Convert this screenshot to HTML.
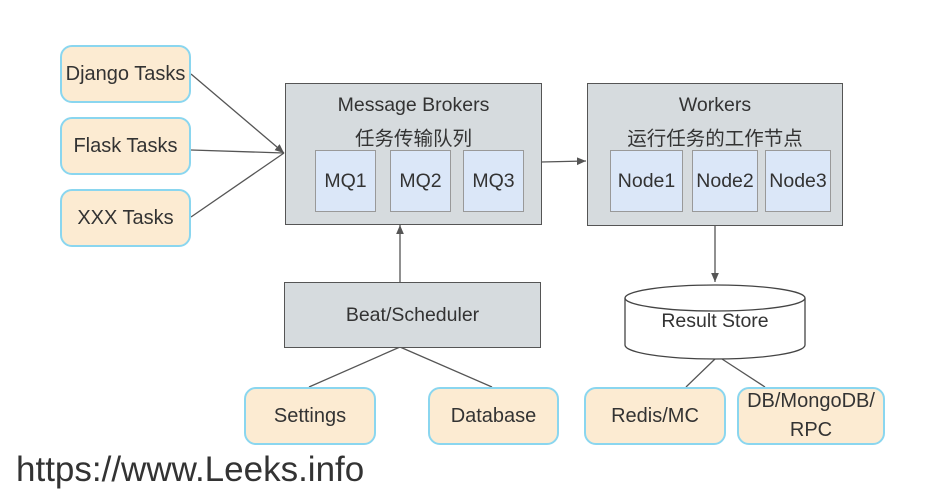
<!DOCTYPE html><html><head><meta charset="utf-8"><style>
body{margin:0;width:949px;height:489px;background:#fff;position:relative;overflow:hidden;font-family:"Liberation Sans","Noto Sans CJK SC",sans-serif;color:#333}
.o{position:absolute;background:#fcebd2;border:2px solid #8ad6ef;border-radius:12px;box-sizing:border-box;display:flex;align-items:center;justify-content:center;text-align:center;font-size:20px;line-height:28px}
.g{position:absolute;background:#d6dbde;border:1.5px solid #555;box-sizing:border-box}
.m{position:absolute;background:#dbe7f8;border:1.5px solid #999;box-sizing:border-box;display:flex;align-items:center;justify-content:center;font-size:19.5px}
.t{position:absolute;left:0;right:0;text-align:center;font-size:19.5px}
</style></head><body>
<svg width="949" height="489" style="position:absolute;left:0;top:0" stroke="#555" stroke-width="1.3" fill="none">
<defs><marker id="a" markerWidth="8" markerHeight="8" refX="7" refY="4" orient="auto"><path d="M0,1 L7,4 L0,7z" fill="#555" stroke="none"/></marker></defs>
<line x1="191" y1="74" x2="284" y2="153" marker-end="url(#a)"/>
<line x1="191" y1="150" x2="284" y2="153"/>
<line x1="191" y1="217" x2="284" y2="153"/>
<line x1="541" y1="162" x2="586" y2="161" marker-end="url(#a)"/>
<line x1="400" y1="282" x2="400" y2="225" marker-end="url(#a)"/>
<line x1="715" y1="226" x2="715" y2="282" marker-end="url(#a)"/>
<line x1="400" y1="347" x2="309" y2="387"/>
<line x1="400" y1="347" x2="492" y2="387"/>
<line x1="715" y1="359" x2="686" y2="387"/>
<line x1="722" y1="359" x2="765" y2="387"/>
<path d="M625,298 L625,345 A90,14 0 0 0 805,345 L805,298" fill="#fff" stroke="#444"/>
<ellipse cx="715" cy="298" rx="90" ry="13" fill="#fff" stroke="#444"/>
<text x="715" y="327" font-size="19.5" fill="#333" stroke="none" text-anchor="middle" font-family="Liberation Sans">Result Store</text>
</svg>
<div class="o" style="left:60px;top:45px;width:131px;height:58px">Django Tasks</div>
<div class="o" style="left:60px;top:117px;width:131px;height:58px">Flask Tasks</div>
<div class="o" style="left:60px;top:189px;width:131px;height:58px">XXX Tasks</div>
<div class="g" style="left:285px;top:83px;width:257px;height:142px"><div class="t" style="top:10px">Message Brokers</div><div class="t" style="top:38px">任务传输队列</div></div>
<div class="m" style="left:315px;top:150px;width:61px;height:62px">MQ1</div>
<div class="m" style="left:390px;top:150px;width:61px;height:62px">MQ2</div>
<div class="m" style="left:463px;top:150px;width:61px;height:62px">MQ3</div>
<div class="g" style="left:587px;top:83px;width:256px;height:143px"><div class="t" style="top:10px">Workers</div><div class="t" style="top:38px">运行任务的工作节点</div></div>
<div class="m" style="left:610px;top:150px;width:73px;height:62px">Node1</div>
<div class="m" style="left:692px;top:150px;width:66px;height:62px">Node2</div>
<div class="m" style="left:765px;top:150px;width:66px;height:62px">Node3</div>
<div class="g" style="left:284px;top:282px;width:257px;height:66px;display:flex;align-items:center;justify-content:center;font-size:19.5px">Beat/Scheduler</div>
<div class="o" style="left:244px;top:387px;width:132px;height:58px">Settings</div>
<div class="o" style="left:428px;top:387px;width:131px;height:58px">Database</div>
<div class="o" style="left:584px;top:387px;width:142px;height:58px">Redis/MC</div>
<div class="o" style="left:737px;top:387px;width:148px;height:58px;line-height:29px">DB/MongoDB/<br>RPC</div>
<div style="position:absolute;left:16px;top:450px;font-size:35px;color:#333">https://www.Leeks.info</div>
</body></html>
